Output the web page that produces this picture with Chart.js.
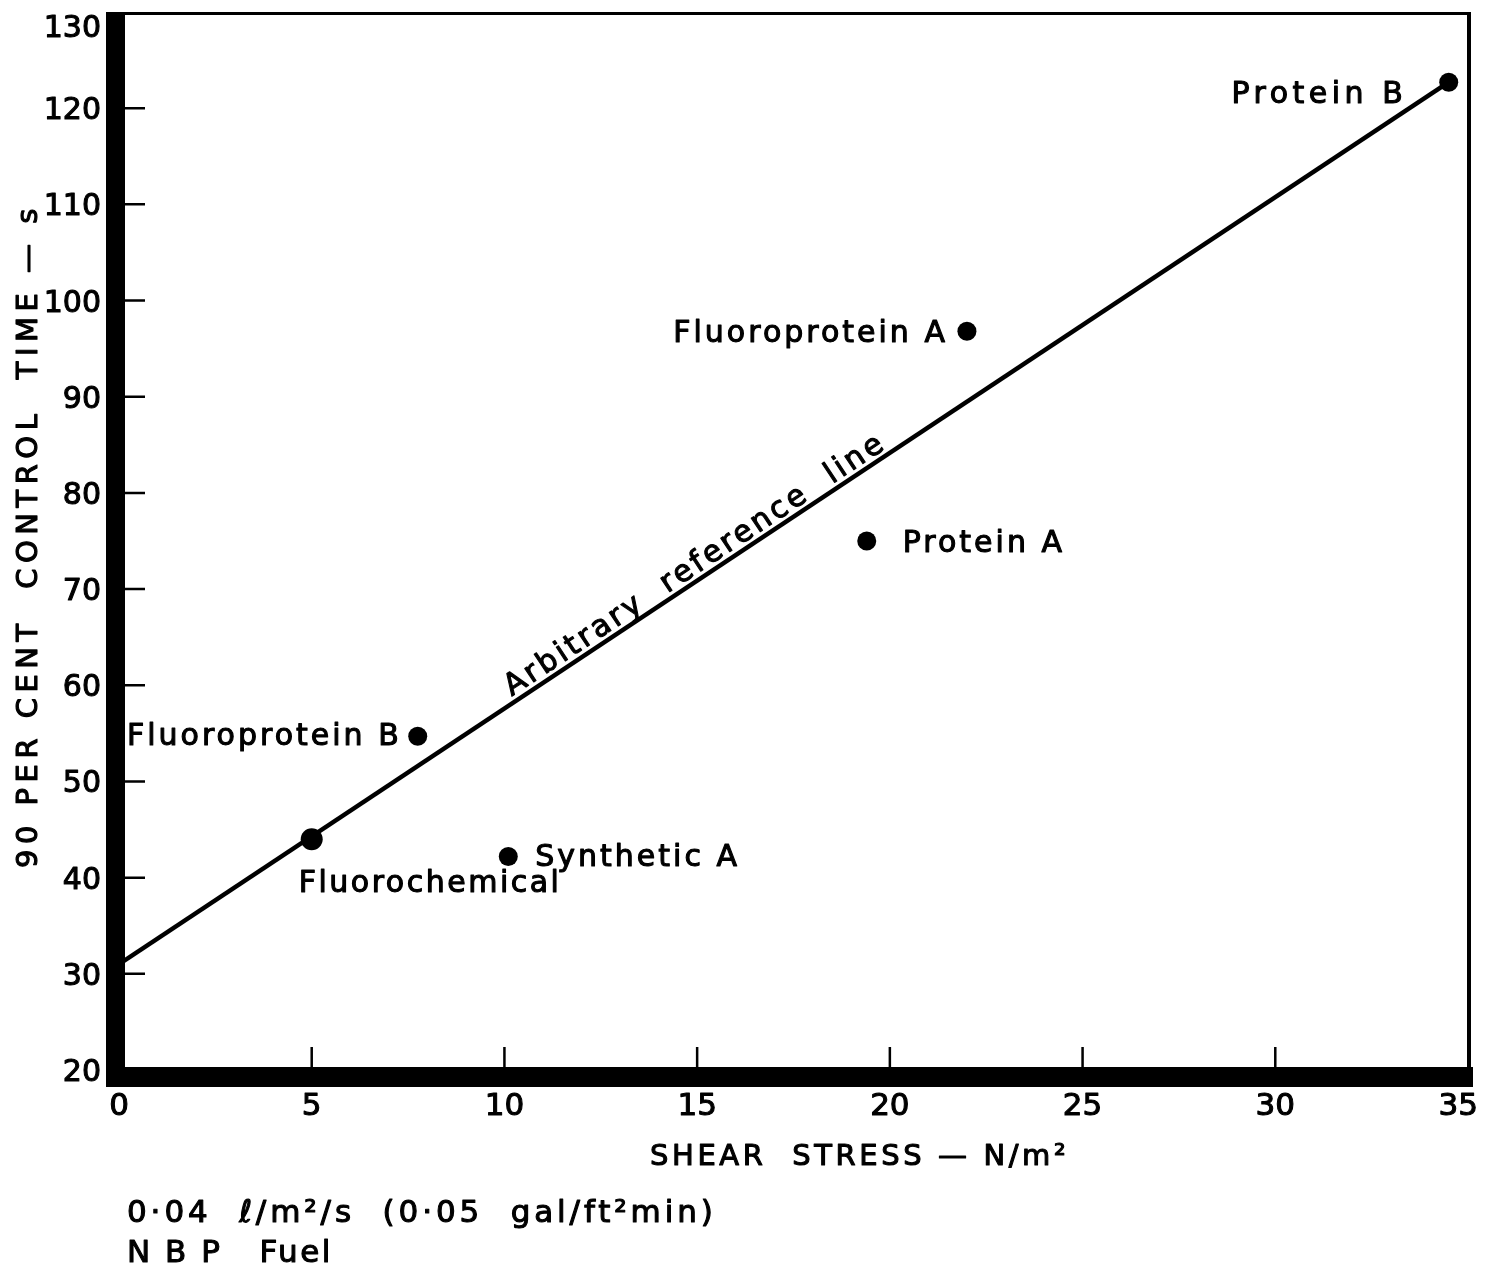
<!DOCTYPE html>
<html>
<head>
<meta charset="utf-8">
<script src="https://cdn.jsdelivr.net/npm/chart.js@4/dist/chart.umd.min.js"></script>
<style>
  html, body { margin: 0; padding: 0; background: #fff; }
  #wrap { width: 1497px; height: 1269px; }
</style>
</head>
<body>
<div id="wrap"><canvas id="c" width="1497" height="1269"></canvas></div>
<script>
// Foam concentrates: shear stress vs 90 per cent control time
const products     = ['Protein B', 'Fluoroprotein A', 'Protein A', 'Fluoroprotein B', 'Fluorochemical', 'Synthetic A'];
const shearStress  = [34.5, 22.0, 19.4, 7.75, 5.0, 10.1];     // N/m²
const controlTime  = [122.7, 96.8, 75.0, 54.7, 44.0, 42.2];   // s

// Arbitrary reference line end points
const refLineX = [0, 34.5];
const refLineY = [31, 122.7];

// Axis ranges and tick steps
const xRange = [0, 35];
const yRange = [20, 130];
const xStep = 5;
const yStep = 10;

const xTitle = 'SHEAR  STRESS — N/m²';
const yTitle = '90 PER CENT  CONTROL  TIME — s';
const refLineText = 'Arbitrary  reference  line';
const noteLines = ['0·04  ℓ/m²/s  (0·05  gal/ft²min)', 'N B P   Fuel'];

// Where each product name sits relative to its dot (pixels)
const labelPlacement = {
  'Protein B':       { dx: -46, dy: 10, align: 'right', spacing: 4.5 },
  'Fluoroprotein A': { dx: -22, dy: 0,  align: 'right', spacing: 3 },
  'Protein A':       { dx: 36,  dy: 0,  align: 'left',  spacing: 3 },
  'Fluoroprotein B': { dx: -19, dy: -2, align: 'right', spacing: 3 },
  'Fluorochemical':  { dx: -13, dy: 42, align: 'left',  spacing: 2.5 },
  'Synthetic A':     { dx: 27,  dy: -1, align: 'left',  spacing: 3 }
};

const FONT = '"DejaVu Sans", "Liberation Sans", sans-serif';

// Filled text with a thin outline so the strokes read as heavy as lettering
function drawText(ctx, text, x, y, size, spacing, align) {
  ctx.font = size + 'px ' + FONT;
  ctx.letterSpacing = spacing + 'px';
  ctx.textAlign = align || 'left';
  ctx.textBaseline = 'alphabetic';
  const px = align === 'right' ? x + spacing : x;
  ctx.lineWidth = 1.1;
  ctx.lineJoin = 'round';
  ctx.fillText(text, px, y);
  ctx.strokeText(text, px, y);
}

const framePlugin = {
  id: 'frame',
  afterDatasetsDraw(chart) {
    const ctx = chart.ctx;
    const a = chart.chartArea;
    const xs = chart.scales.x, ys = chart.scales.y;
    ctx.save();
    ctx.fillStyle = '#000';
    ctx.strokeStyle = '#000';

    // heavy left and bottom axes
    ctx.fillRect(a.left - 13, a.top, 19, a.bottom - a.top + 17);
    ctx.fillRect(a.left - 13, a.bottom - 3, a.right - a.left + 18, 20);
    // thin top and right border
    ctx.fillRect(a.left - 13, a.top, a.right - a.left + 16, 3);
    ctx.fillRect(a.right - 1, a.top, 4, a.bottom - a.top + 8);

    // inward tick marks
    ctx.lineWidth = 2.5;
    ctx.beginPath();
    ys.ticks.forEach(t => {
      if (t.value <= yRange[0] || t.value >= yRange[1]) return;
      const py = ys.getPixelForValue(t.value);
      ctx.moveTo(a.left + 6, py); ctx.lineTo(a.left + 26, py);
    });
    xs.ticks.forEach(t => {
      if (t.value <= xRange[0] || t.value >= xRange[1]) return;
      const px = xs.getPixelForValue(t.value);
      ctx.moveTo(px, a.bottom - 3); ctx.lineTo(px, a.bottom - 23);
    });
    ctx.stroke();

    // y tick labels
    ys.ticks.forEach(t => {
      let py = ys.getPixelForValue(t.value);
      py = Math.max(py, a.top + 14);
      drawText(ctx, String(t.value), a.left - 18, py + 11, 30, 0, 'right');
    });
    // x tick labels
    xs.ticks.forEach(t => {
      const label = String(t.value);
      ctx.font = '31px ' + FONT;
      ctx.letterSpacing = '0px';
      const w = ctx.measureText(label).width;
      let cx = xs.getPixelForValue(t.value);
      cx = Math.min(cx, a.right + 10 - w / 2);
      drawText(ctx, label, cx - w / 2, a.bottom + 45, 31, 0, 'left');
    });

    // axis titles
    drawText(ctx, xTitle, 650, 1165, 29, 3.6, 'left');
    ctx.save();
    ctx.translate(37, 868);
    ctx.rotate(-Math.PI / 2);
    drawText(ctx, yTitle, 0, 0, 29, 5.5, 'left');
    ctx.restore();

    // notes under the chart
    drawText(ctx, noteLines[0], 127, 1222, 31, 3.9, 'left');
    drawText(ctx, noteLines[1], 127, 1262, 31, 2.5, 'left');

    // product names next to their points
    const meta = chart.getDatasetMeta(1);
    meta.data.forEach((pt, i) => {
      const p = labelPlacement[products[i]];
      drawText(ctx, products[i], pt.x + p.dx, pt.y + p.dy + 11, 30, p.spacing, p.align);
    });

    // label along the reference line
    const x0 = xs.getPixelForValue(refLineX[0]), y0 = ys.getPixelForValue(refLineY[0]);
    const x1 = xs.getPixelForValue(refLineX[1]), y1 = ys.getPixelForValue(refLineY[1]);
    const ang = Math.atan2(y1 - y0, x1 - x0);
    const tx = 515, ty = y0 + (y1 - y0) * (tx - x0) / (x1 - x0);
    ctx.save();
    ctx.translate(tx, ty);
    ctx.rotate(ang);
    drawText(ctx, refLineText, 0, -6, 30, 3.2, 'left');
    ctx.restore();

    ctx.restore();
  }
};

new Chart(document.getElementById('c'), {
  type: 'scatter',
  data: {
    datasets: [
      {
        type: 'line',
        data: refLineX.map((x, i) => ({ x, y: refLineY[i] })),
        borderColor: '#000',
        borderWidth: 4.5,
        pointRadius: 0,
        fill: false,
        tension: 0
      },
      {
        data: shearStress.map((x, i) => ({ x, y: controlTime[i] })),
        backgroundColor: '#000',
        borderColor: '#000',
        pointRadius: [9.5, 9.5, 9.5, 9.5, 11, 9.5],
        pointBorderWidth: 0
      }
    ]
  },
  options: {
    responsive: false,
    animation: false,
    devicePixelRatio: 1,
    layout: { padding: { left: 0, right: 29, top: 12, bottom: 0 } },
    plugins: { legend: { display: false }, tooltip: { enabled: false } },
    scales: {
      x: {
        type: 'linear', min: xRange[0], max: xRange[1],
        ticks: { display: false, stepSize: xStep },
        grid: { display: false },
        border: { display: false },
        afterFit: s => { s.height = 199; }
      },
      y: {
        type: 'linear', min: yRange[0], max: yRange[1],
        ticks: { display: false, stepSize: yStep },
        grid: { display: false },
        border: { display: false },
        afterFit: s => { s.width = 119; }
      }
    }
  },
  plugins: [framePlugin]
});
</script>
</body>
</html>
